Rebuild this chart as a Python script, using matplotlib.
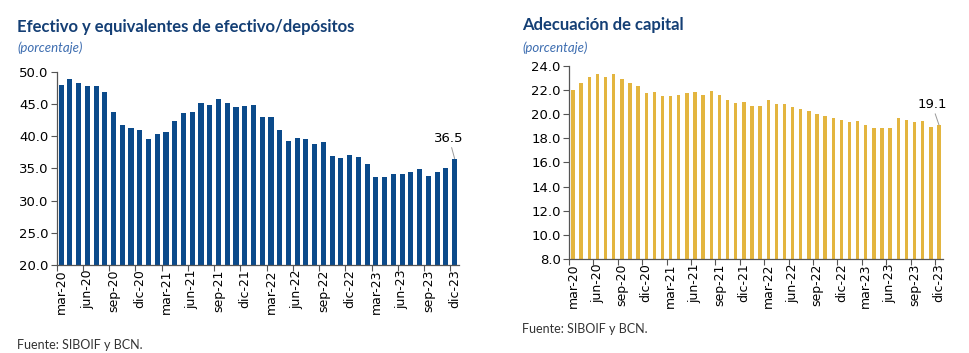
import matplotlib
matplotlib.use("Agg")
import matplotlib.pyplot as plt
import numpy as np

# meses mar-20 .. dic-23
meses = ["ene", "feb", "mar", "abr", "may", "jun", "jul", "ago", "sep", "oct", "nov", "dic"]
periodos = []
for anio in range(20, 24):
    for m in meses:
        periodos.append(f"{m}-{anio}")
periodos = periodos[2:]  # desde mar-20 hasta dic-23

efectivo = [47.9, 48.8, 48.2, 47.7, 47.7, 46.8, 43.8, 41.7, 41.2, 41.0,
            39.6, 40.4, 40.6, 42.3, 43.6, 43.8, 45.2, 44.9, 45.7, 45.1,
            44.5, 44.7, 44.9, 43.0, 42.9, 41.0, 39.3, 39.7, 39.5, 38.8,
            39.1, 36.9, 36.6, 37.1, 36.8, 35.6, 33.6, 33.6, 34.1, 34.1,
            34.5, 34.9, 33.8, 34.5, 35.1, 36.5]

capital = [22.0, 22.6, 23.1, 23.3, 23.1, 23.3, 22.9, 22.6, 22.3, 21.7,
           21.8, 21.5, 21.5, 21.6, 21.7, 21.8, 21.6, 21.9, 21.6, 21.2,
           20.9, 21.0, 20.7, 20.7, 21.2, 20.85, 20.85, 20.55, 20.45, 20.25,
           20.0, 19.8, 19.65, 19.5, 19.35, 19.4, 19.05, 18.85, 18.85, 18.85,
           19.65, 19.5, 19.3, 19.4, 18.9, 19.1]

azul = "#0B4A8A"
oro = "#E3B53F"
titulo_color = "#143F75"
sub_color = "#3D6DB0"

fig = plt.figure(figsize=(9.69, 3.53), dpi=100)


def panel(rect, valores, color, ancho, ylim, paso, etiqueta, lbl_pos):
    ax = fig.add_axes(rect)
    x = np.arange(len(valores))
    ax.bar(x, valores, width=ancho, color=color, zorder=2)
    ax.set_xlim(-0.5, len(valores) - 0.5)
    ax.set_ylim(*ylim)
    ax.set_yticks(np.arange(ylim[0], ylim[1] + 0.01, paso))
    ax.set_yticklabels([f"{v:.1f}" for v in np.arange(ylim[0], ylim[1] + 0.01, paso)])
    # marcas entre categorias, etiquetas centradas
    ax.set_xticks(np.arange(-0.5, len(valores), 3))
    ax.set_xticklabels([])
    ax.set_xticks(np.arange(0, len(valores), 3), minor=True)
    ax.set_xticklabels([periodos[i] for i in range(0, len(valores), 3)],
                       minor=True, rotation=90, fontsize=9)
    ax.tick_params(axis="x", which="major", length=4, color="#555555")
    ax.tick_params(axis="x", which="minor", length=0, pad=3)
    ax.tick_params(axis="y", length=4, color="#555555", labelsize=9.5, pad=2)
    for s in ["top", "right"]:
        ax.spines[s].set_visible(False)
    for s in ["left", "bottom"]:
        ax.spines[s].set_color("#555555")
        ax.spines[s].set_linewidth(0.9)
    # etiqueta del ultimo dato
    last = len(valores) - 1
    ax.annotate(etiqueta, xy=(last, valores[-1]), xytext=lbl_pos,
                textcoords="offset points", ha="center", va="bottom", fontsize=9.5,
                arrowprops=dict(arrowstyle="-", color="#999999", lw=0.7,
                                shrinkA=0, shrinkB=0))
    return ax


panel([0.0585, 0.2493, 0.4152, 0.5477], efectivo, azul, 0.58, (20, 50), 5,
      "36.5", (-4, 10))
panel([0.5872, 0.2663, 0.3860, 0.5476], capital, oro, 0.42, (8, 24), 2,
      "19.1", (-5, 10))

fig.text(0.0175, 0.923, "Efectivo y equivalentes de efectivo/depósitos",
         fontsize=12, fontweight="bold", family="Lato", color=titulo_color,
         va="center")
fig.text(0.0175, 0.864, "(porcentaje)", fontsize=9.5, style="italic",
         family="Lato", color=sub_color, va="center")
fig.text(0.0175, 0.024, "Fuente: SIBOIF y BCN.", fontsize=9, family="Lato",
         color="#333333", va="center")

fig.text(0.539, 0.929, "Adecuación de capital", fontsize=12, fontweight="bold",
         family="Lato", color=titulo_color, va="center")
fig.text(0.539, 0.864, "(porcentaje)", fontsize=9.5, style="italic",
         family="Lato", color=sub_color, va="center")
fig.text(0.539, 0.068, "Fuente: SIBOIF y BCN.", fontsize=9, family="Lato",
         color="#333333", va="center")

fig.savefig("out.png", dpi=100)
